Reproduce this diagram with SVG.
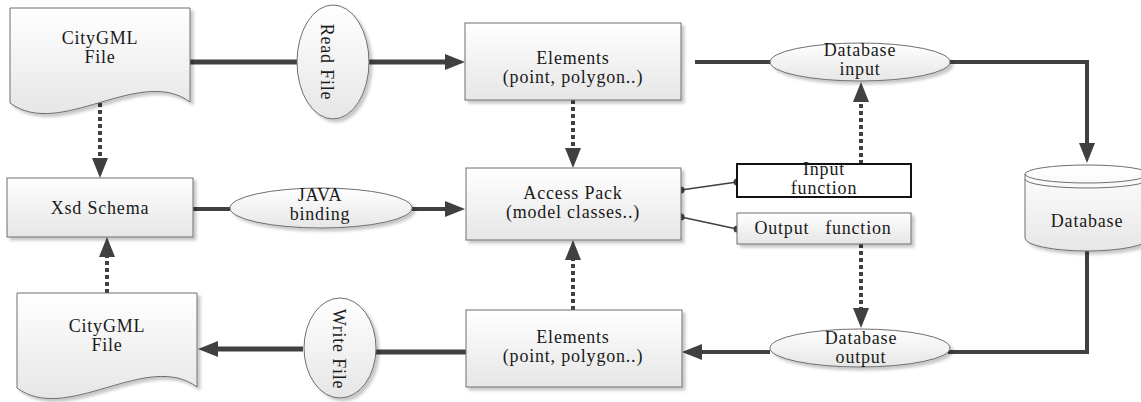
<svg xmlns="http://www.w3.org/2000/svg" width="1141" height="402" viewBox="0 0 1141 402">
<defs>
<linearGradient id="g" x1="0" y1="0" x2="0" y2="1"><stop offset="0" stop-color="#ffffff"/><stop offset="1" stop-color="#e6e6e6"/></linearGradient>
<filter id="sh" x="-10%" y="-10%" width="130%" height="140%"><feDropShadow dx="3" dy="3" stdDeviation="1.5" flood-color="#000" flood-opacity="0.22"/></filter>
<marker id="a" markerUnits="userSpaceOnUse" markerWidth="20" markerHeight="16" refX="0" refY="8" orient="auto"><path d="M0,0 L20,8 L0,16 Z" fill="#404040"/></marker>
<path id="doc" d="M0,0 H180 V94 C130,57 50,132 0,95 Z"/>
</defs>
<style>
.n{fill:url(#g);stroke:#6e6e6e;stroke-width:1;filter:url(#sh)}
.t{font-family:"Liberation Serif","Times New Roman",serif;font-size:18px;letter-spacing:0.8px;fill:#1a1a1a;text-anchor:middle}
.s{fill:none;stroke:#404040;stroke-width:4}
.w{fill:none;stroke:#404040;stroke-width:5}
.d{fill:none;stroke:#404040;stroke-width:4;stroke-dasharray:4 3}
.th{fill:none;stroke:#404040;stroke-width:1.5}
.dot{fill:#404040}
</style>
<rect width="1141" height="402" fill="#ffffff"/>
<g id="connectors">
<path class="w" d="M190,62 H297"/>
<path class="w" d="M368,62 H445" marker-end="url(#a)"/>
<path class="s" d="M695,62 H771"/>
<path class="s" d="M950,62 H1087 V143" marker-end="url(#a)"/>
<path class="s" d="M1087,251 V352 H948"/>
<path class="s" d="M770,352 H702" marker-end="url(#a)"/>
<path class="w" d="M466,352 H376"/>
<path class="w" d="M303,349 H218" marker-end="url(#a)"/>
<path class="s" d="M193,209 H230"/>
<path class="s" d="M412,209 H445" marker-end="url(#a)"/>
<path class="d" d="M100,103 V158" marker-end="url(#a)"/>
<path class="d" d="M107,293 V257" marker-end="url(#a)"/>
<path class="d" d="M573,100 V148" marker-end="url(#a)"/>
<path class="d" d="M573,310 V260" marker-end="url(#a)"/>
<path class="d" d="M861,164 V102" marker-end="url(#a)"/>
<path class="d" d="M861,244 V308" marker-end="url(#a)"/>
<path class="th" d="M681,190 L737,182"/>
<path class="th" d="M681,217 L737,229"/>
<circle class="dot" cx="681" cy="190" r="3.5"/>
<circle class="dot" cx="737" cy="182" r="3.5"/>
<circle class="dot" cx="681" cy="217" r="3.5"/>
<circle class="dot" cx="737" cy="229" r="3.5"/>
</g>
<g id="citygml-top">
<use href="#doc" class="n" transform="translate(10,8)"/>
<text class="t" x="100" y="44">CityGML</text>
<text class="t" x="100" y="63">File</text>
</g>
<g id="read-file">
<ellipse class="n" cx="333" cy="62" rx="36" ry="57"/>
<text class="t" transform="translate(321,62) rotate(90)" x="0" y="0">Read File</text>
</g>
<g id="elements-top">
<rect class="n" x="465" y="23" width="216" height="77"/>
<text class="t" x="573" y="64">Elements</text>
<text class="t" x="573" y="83">(point, polygon..)</text>
</g>
<g id="database-input">
<ellipse class="n" cx="860" cy="62" rx="90" ry="19"/>
<text class="t" x="860" y="56">Database</text>
<text class="t" x="860" y="75">input</text>
</g>
<g id="database">
<path class="n" d="M1025,174 A62,9 0 0 1 1149,174 V238 A62,13 0 0 1 1025,238 Z"/>
<path d="M1025,174 A62,9 0 0 0 1149,174" fill="none" stroke="#6e6e6e"/>
<path d="M1025,179 A62,9 0 0 0 1149,179" fill="none" stroke="#6e6e6e"/>
<text class="t" x="1087" y="227">Database</text>
</g>
<g id="xsd-schema">
<rect class="n" x="7" y="178" width="186" height="59"/>
<text class="t" x="100" y="214">Xsd Schema</text>
</g>
<g id="java-binding">
<ellipse class="n" cx="321" cy="208" rx="91" ry="20"/>
<text class="t" x="320" y="201">JAVA</text>
<text class="t" x="320" y="220">binding</text>
</g>
<g id="access-pack">
<rect class="n" x="466" y="168" width="215" height="72"/>
<text class="t" x="573" y="199">Access Pack</text>
<text class="t" x="573" y="218">(model classes..)</text>
</g>
<g id="input-function">
<rect x="737" y="164" width="174" height="33" fill="#ffffff" stroke="#111111" stroke-width="2"/>
<text class="t" x="824" y="175">Input</text>
<text class="t" x="824" y="194">function</text>
</g>
<g id="output-function">
<rect class="n" x="737" y="213" width="174" height="31"/>
<text class="t" x="823" y="234" xml:space="preserve">Output   function</text>
</g>
<g id="database-output">
<ellipse class="n" cx="860" cy="348" rx="90" ry="19"/>
<text class="t" x="861" y="344">Database</text>
<text class="t" x="861" y="363">output</text>
</g>
<g id="elements-bottom">
<rect class="n" x="466" y="310" width="216" height="77"/>
<text class="t" x="573" y="343">Elements</text>
<text class="t" x="573" y="362">(point, polygon..)</text>
</g>
<g id="write-file">
<ellipse class="n" cx="340" cy="348" rx="36" ry="50"/>
<text class="t" transform="translate(333,349) rotate(90)" x="0" y="0">Write File</text>
</g>
<g id="citygml-bottom">
<use href="#doc" class="n" transform="translate(17,293)"/>
<text class="t" x="107" y="332">CityGML</text>
<text class="t" x="107" y="351">File</text>
</g>
</svg>
